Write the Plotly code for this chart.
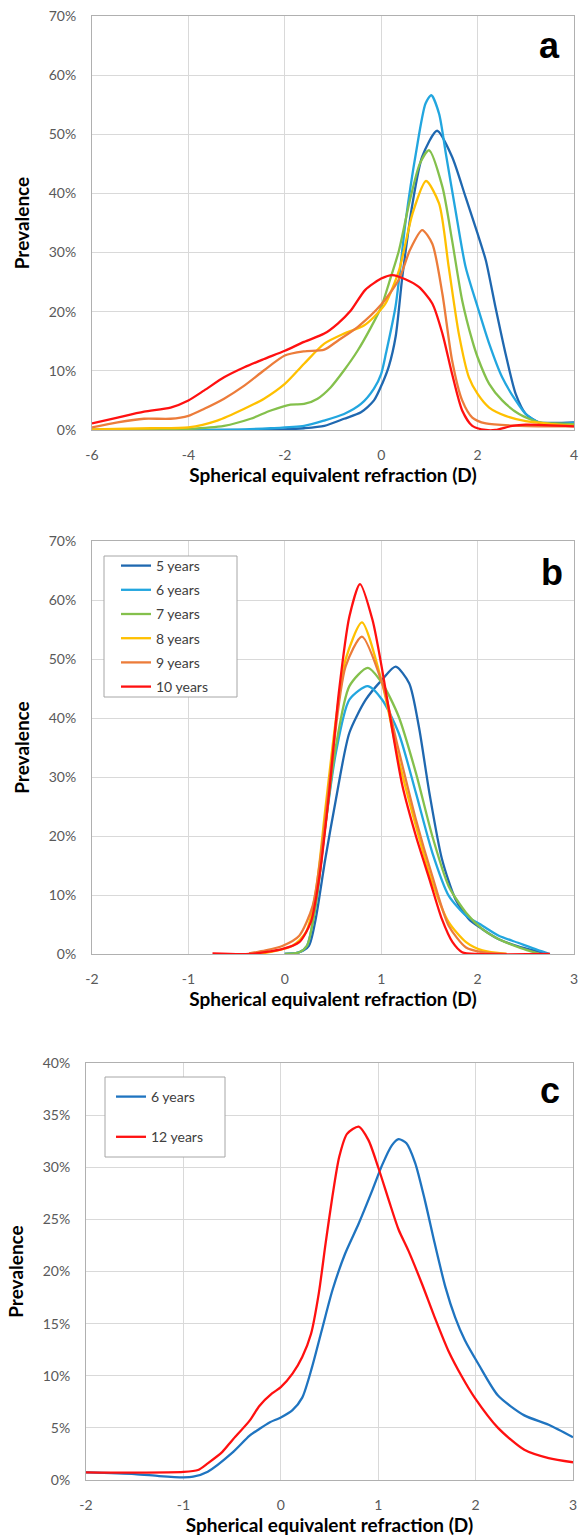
import plotly.graph_objects as go

# ---------------- Panel a data (age groups) ----------------
a_names = ["5 years", "6 years", "7 years", "8 years", "9 years", "10 years"]
a5_x = [-6, -3, -2.3, -1.6, -1.18, -0.77, -0.42, -0.15, 0.03, 0.16, 0.3, 0.44, 0.65, 0.85, 1.16, 1.47, 1.75, 2.0, 2.17, 2.37, 2.58, 2.79, 3.0, 3.27, 3.6, 4]
a5_y = [0, 0, 0, 0.3, 0.7, 1.9, 3.0, 5.0, 8.0, 10.8, 15.8, 26, 38.3, 46.2, 50.6, 46.2, 39.4, 33.2, 28.7, 20.8, 12.9, 6.1, 2.7, 1.3, 1.2, 1.3]
a6_x = [-6, -3.4, -2.29, -1.6, -1.18, -0.77, -0.42, -0.15, 0.0, 0.1, 0.3, 0.51, 0.72, 0.92, 1.04, 1.2, 1.34, 1.54, 1.75, 2.0, 2.24, 2.51, 2.79, 3.0, 3.27, 3.6, 4]
a6_y = [0, 0, 0.3, 0.7, 1.6, 2.7, 4.4, 7.0, 9.5, 13, 21, 35.5, 46.8, 55.2, 56.6, 53.5, 46.8, 37.2, 27.6, 20.8, 14.6, 8.9, 5.0, 2.7, 1.3, 1.0, 1.2]
a7_x = [-6, -4, -3.26, -2.71, -2.29, -1.88, -1.6, -1.32, -1.05, -0.77, -0.49, -0.21, 0.0, 0.16, 0.37, 0.58, 0.8, 0.99, 1.27, 1.47, 1.68, 1.89, 2.0, 2.24, 2.51, 2.86, 3.27, 3.6, 4]
a7_y = [0, 0.2, 0.7, 1.9, 3.3, 4.3, 4.4, 5.3, 7.2, 10.1, 13.4, 17.4, 20.8, 24.8, 30.4, 38.3, 45, 47.3, 41.1, 32.1, 21.9, 15.1, 12.3, 7.8, 5.0, 2.7, 1.3, 1.1, 1.0]
a8_x = [-6, -4.78, -4, -3.4, -2.84, -2.43, -2, -1.6, -1.18, -0.77, -0.35, -0.08, 0.09, 0.37, 0.65, 0.93, 1.2, 1.4, 1.61, 1.82, 2.0, 2.24, 2.58, 3.0, 3.55, 4]
a8_y = [0.1, 0.3, 0.45, 1.6, 3.6, 5.3, 7.8, 11.2, 14.6, 16.3, 17.7, 19.7, 21.4, 27, 36.6, 42.1, 38.3, 27.6, 16.3, 8.9, 6.1, 3.8, 2.4, 1.5, 1.0, 0.7]
a9_x = [-6, -5.47, -4.92, -4.37, -4, -3.67, -3.26, -2.84, -2.43, -2, -1.6, -1.18, -0.9, -0.49, 0.0, 0.37, 0.6, 0.85, 1.06, 1.27, 1.47, 1.68, 1.89, 2.17, 2.86, 4]
a9_y = [0.45, 1.3, 1.9, 1.9, 2.4, 3.6, 5.3, 7.5, 10.1, 12.6, 13.3, 13.6, 15.1, 17.4, 21.2, 25.5, 30.5, 33.8, 31.5, 23, 11.8, 5.0, 2.1, 1.1, 0.7, 0.6]
a10_x = [-6, -5.47, -4.92, -4.37, -4, -3.67, -3.26, -2.84, -2.43, -2, -1.6, -1.18, -0.9, -0.63, -0.33, 0.0, 0.23, 0.5, 0.78, 1.06, 1.27, 1.47, 1.68, 1.89, 2.17, 2.37, 2.72, 3.0, 4]
a10_y = [1.1, 2.1, 3.1, 3.8, 5.0, 6.7, 8.9, 10.6, 12.0, 13.4, 14.9, 16.3, 18.0, 20.2, 23.7, 25.6, 26.2, 25.5, 24.2, 21.4, 16.3, 9.5, 3.3, 0.7, 0, 0, 0.7, 0.9, 0.6]

# ---------------- Panel b data ----------------
b5_x = [0, 0.15, 0.25, 0.32, 0.42, 0.53, 0.67, 0.84, 1.01, 1.15, 1.29, 1.39, 1.5, 1.63, 1.77, 1.91, 2.05, 2.22, 2.42, 2.62, 2.73]
b5_y = [0, 0.3, 1.4, 5.9, 16.1, 26.2, 37.5, 43.1, 46.5, 48.7, 45.9, 38.6, 27.3, 16.1, 9.3, 5.9, 4.2, 2.5, 1.3, 0.45, 0]
b6_x = [0, 0.15, 0.23, 0.32, 0.42, 0.53, 0.67, 0.86, 1.01, 1.18, 1.36, 1.53, 1.7, 1.88, 2.05, 2.22, 2.42, 2.62, 2.75]
b6_y = [0, 0.3, 1.4, 8.2, 21.7, 34.1, 43.1, 45.4, 43.1, 37.5, 27.3, 17.2, 9.9, 6.5, 4.8, 3.1, 1.9, 0.7, 0]
b7_x = [0, 0.15, 0.23, 0.32, 0.42, 0.53, 0.67, 0.86, 1.01, 1.18, 1.36, 1.53, 1.7, 1.88, 2.05, 2.22, 2.45, 2.65]
b7_y = [0, 0.3, 1.4, 8.2, 21.7, 35.2, 45.4, 48.5, 45.9, 40.3, 30.7, 20, 11.5, 7, 4.2, 2.5, 1.0, 0]
b8_x = [-0.3, -0.2, 0.08, 0.22, 0.32, 0.42, 0.53, 0.63, 0.8, 1.01, 1.18, 1.36, 1.53, 1.7, 1.88, 2.05, 2.3]
b8_y = [0, 0.2, 1.4, 3.7, 10.4, 24.5, 39.7, 49.9, 56.2, 45.9, 33, 21.7, 12.1, 5.4, 2.0, 0.6, 0]
b9_x = [-0.37, -0.2, -0.02, 0.15, 0.29, 0.39, 0.49, 0.63, 0.8, 1.01, 1.18, 1.36, 1.53, 1.7, 1.88, 2.05, 2.3]
b9_y = [0.1, 0.6, 1.4, 3.1, 8.2, 18.9, 33, 48.7, 53.8, 45.9, 34.6, 22.8, 13.2, 4.8, 1.1, 0.3, 0]
b10_x = [-0.75, -0.37, -0.02, 0.15, 0.27, 0.36, 0.46, 0.56, 0.67, 0.78, 0.91, 1.01, 1.12, 1.22, 1.36, 1.5, 1.63, 1.74, 1.84, 2.0, 2.75]
b10_y = [0.1, 0, 0.85, 2.0, 5.4, 13.2, 27.3, 44.2, 57.2, 62.7, 56.6, 48.2, 37.5, 28.5, 20, 12.7, 5.9, 2.0, 0.3, 0, 0]

# ---------------- Panel c data ----------------
c_names = ["6 years", "12 years"]
c6_x = [-2, -1.5, -1.25, -1, -0.9, -0.75, -0.5, -0.32, -0.22, -0.12, 0, 0.12, 0.22, 0.32, 0.43, 0.53, 0.66, 0.8, 0.94, 1.04, 1.14, 1.21, 1.29, 1.38, 1.48, 1.58, 1.69, 1.79, 1.89, 2.03, 2.23, 2.5, 2.75, 3.0]
c6_y = [0.73, 0.57, 0.38, 0.26, 0.32, 0.8, 2.6, 4.26, 4.9, 5.5, 6.0, 6.7, 7.9, 10.8, 14.7, 18.2, 21.7, 24.6, 27.8, 30.2, 32.1, 32.7, 32.3, 30.4, 26.8, 22.7, 18.5, 15.6, 13.4, 11.1, 8.1, 6.2, 5.3, 4.1]
c12_x = [-2, -1.5, -1, -0.85, -0.75, -0.6, -0.5, -0.32, -0.22, -0.09, 0, 0.12, 0.22, 0.31, 0.39, 0.46, 0.53, 0.6, 0.68, 0.8, 0.9, 1.0, 1.11, 1.21, 1.31, 1.45, 1.58, 1.72, 1.86, 1.99, 2.23, 2.5, 2.75, 3.0]
c12_y = [0.73, 0.7, 0.77, 0.96, 1.6, 2.7, 3.8, 5.7, 7.1, 8.3, 8.9, 10.2, 11.8, 14.0, 17.9, 22.7, 27.2, 31.0, 33.2, 33.9, 32.6, 30.0, 26.8, 24.0, 22.0, 18.8, 15.6, 12.4, 9.9, 7.9, 5.0, 2.9, 2.1, 1.7]

# ---------------- ticks / text ----------------
xa_ticks = [-6, -4, -2, 0, 2, 4]
xa_labels = ["-6", "-4", "-2", "0", "2", "4"]
xbc_ticks = [-2, -1, 0, 1, 2, 3]
xbc_labels = ["-2", "-1", "0", "1", "2", "3"]
x_title = "Spherical equivalent refraction (D)"
y_title = "Prevalence"
panel_labels = ["a", "b", "c"]

colors6 = ["#1F68B0", "#22A6DF", "#84C04C", "#FFC000", "#EC7C3A", "#FF1010"]
colors_c = ["#1F74C0", "#FF1010"]

W, H = 582, 1538
FONT = "Lato"

fig = go.Figure()
LINE = dict(width=2.3, shape="spline", smoothing=0.7)

a_series = [(a5_x, a5_y), (a6_x, a6_y), (a7_x, a7_y), (a8_x, a8_y), (a9_x, a9_y), (a10_x, a10_y)]
for i, (xs, ys) in enumerate(a_series):
    fig.add_trace(go.Scatter(x=xs, y=ys, mode="lines", name=a_names[i], showlegend=False,
                             line=dict(color=colors6[i], **LINE), xaxis="x", yaxis="y"))

b_series = [(b5_x, b5_y), (b6_x, b6_y), (b7_x, b7_y), (b8_x, b8_y), (b9_x, b9_y), (b10_x, b10_y)]
for i, (xs, ys) in enumerate(b_series):
    fig.add_trace(go.Scatter(x=xs, y=ys, mode="lines", name=a_names[i], legend="legend",
                             legendgroup="b%d" % i,
                             line=dict(color=colors6[i], **LINE), xaxis="x2", yaxis="y2"))

c_series = [(c6_x, c6_y), (c12_x, c12_y)]
for i, (xs, ys) in enumerate(c_series):
    fig.add_trace(go.Scatter(x=xs, y=ys, mode="lines", name=c_names[i], legend="legend2",
                             legendgroup="c%d" % i,
                             line=dict(color=colors_c[i], **LINE), xaxis="x3", yaxis="y3"))


def px_x(p):
    return p / W


def px_y(p):
    return 1 - p / H


grid = "#D9D9D9"
frame = "#B0B0B0"
tickfont = dict(family=FONT, size=14, color="#595959")
titlefont = dict(family=FONT, size=19, color="#000000", weight="bold")


def xax(dom, rng, tv, tt, anchor):
    return dict(domain=dom, range=rng, tickvals=tv, ticktext=tt, anchor=anchor,
                showgrid=True, gridcolor=grid, zeroline=False, showline=True, mirror=True,
                linecolor=frame, linewidth=1, ticks="", tickfont=tickfont, ticklabelstandoff=12,
                title=dict(text=x_title, font=titlefont, standoff=6), automargin=False)


def yax(dom, rng, dt, anchor):
    return dict(domain=dom, range=rng, dtick=dt, anchor=anchor, ticksuffix="%",
                showgrid=True, gridcolor=grid, zeroline=False, showline=True, mirror=True,
                linecolor=frame, linewidth=1, ticks="", tickfont=tickfont, ticklabelstandoff=12,
                title=dict(text=y_title, font=titlefont, standoff=14), automargin=False)


legfont = dict(family=FONT, size=14, color="#404040")
fig.update_layout(
    width=W, height=H, margin=dict(l=0, r=0, t=0, b=0),
    paper_bgcolor="white", plot_bgcolor="white",
    font=dict(family=FONT),
    xaxis=xax([px_x(92), px_x(574)], [-6, 4], xa_ticks, xa_labels, "y"),
    yaxis=yax([px_y(430), px_y(16)], [0, 70], 10, "x"),
    xaxis2=xax([px_x(92), px_x(574)], [-2, 3], xbc_ticks, xbc_labels, "y2"),
    yaxis2=yax([px_y(954), px_y(541)], [0, 70], 10, "x2"),
    xaxis3=xax([px_x(86), px_x(573)], [-2, 3], xbc_ticks, xbc_labels, "y3"),
    yaxis3=yax([px_y(1480), px_y(1063)], [0, 40], 5, "x3"),
    legend=dict(x=px_x(116), y=px_y(550), xanchor="left", yanchor="top",
                borderwidth=0, bgcolor="rgba(0,0,0,0)", font=legfont,
                tracegroupgap=3, itemwidth=30),
    legend2=dict(x=px_x(111), y=px_y(1081), xanchor="left", yanchor="top",
                 borderwidth=0, bgcolor="rgba(0,0,0,0)", font=legfont,
                 tracegroupgap=19, itemwidth=30),
)

# legend frames (boxes behind the legends)
for (x0, y0, x1, y1) in [(104, 556, 237, 697), (105, 1077, 225, 1157)]:
    fig.add_shape(type="rect", xref="paper", yref="paper",
                  x0=px_x(x0), x1=px_x(x1), y0=px_y(y1), y1=px_y(y0),
                  line=dict(color="#A6A6A6", width=1), fillcolor="white", layer="above")

label_pos = [(549, 45), (552, 572), (550, 1090)]
for lab, (lx, ly) in zip(panel_labels, label_pos):
    fig.add_annotation(text="<b>%s</b>" % lab, x=px_x(lx), y=px_y(ly), xref="paper", yref="paper",
                       showarrow=False, font=dict(family="Liberation Sans", size=36, color="#000000"),
                       xanchor="center", yanchor="middle")

fig.write_html("out.html")
